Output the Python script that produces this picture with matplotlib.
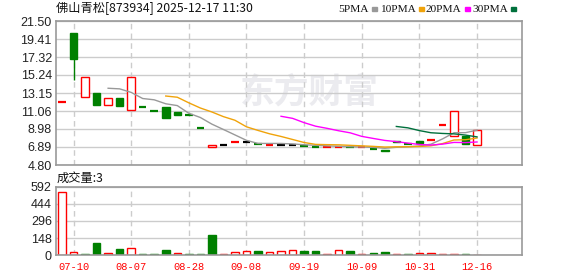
import numpy as np
import matplotlib
matplotlib.use('Agg')
import matplotlib.pyplot as plt

# --- data ---
opens = [12.06, 20.15, 12.64, 13.13, 11.72, 12.56, 11.14, 11.49, 11.03, 11.52,
         10.95, 10.60, 9.07, 6.89, 7.15, 7.46, 7.46, 7.27, 7.15, 7.15,
         7.15, 7.04, 6.89, 6.89, 6.89, 6.89, 6.89, 6.66, 6.57, 7.58,
         7.20, 7.55, 7.68, 9.42, 8.15, 8.15, 7.12]
closes = [12.06, 17.08, 15.06, 11.79, 12.52, 11.68, 15.06, 11.49, 11.03, 10.22,
          10.64, 10.60, 9.07, 7.15, 7.15, 7.46, 7.46, 7.27, 7.15, 7.15,
          7.15, 7.04, 6.89, 6.89, 6.89, 6.89, 6.89, 6.66, 6.38, 7.42,
          7.20, 7.39, 7.68, 9.42, 11.03, 7.23, 8.84]
highs = [12.06, 20.15, 15.06, 13.13, 12.52, 12.56, 15.06, 11.49, 11.03, 11.52,
         10.95, 10.60, 9.07, 7.15, 7.15, 7.46, 7.46, 7.27, 7.15, 7.15,
         7.15, 7.04, 6.89, 6.89, 6.89, 6.89, 6.89, 6.66, 6.57, 7.58,
         7.20, 7.55, 7.68, 9.42, 11.03, 8.15, 8.84]
lows = [12.06, 14.66, 12.64, 11.79, 11.72, 11.68, 11.14, 11.49, 11.03, 10.22,
        10.64, 10.60, 9.07, 6.89, 7.15, 7.46, 7.46, 7.27, 7.15, 7.15,
        7.15, 7.04, 6.89, 6.89, 6.89, 6.89, 6.89, 6.66, 6.38, 7.42,
        7.20, 7.39, 7.68, 9.42, 8.15, 7.23, 7.12]
candle_color = ['r', 'g', 'r', 'g', 'r', 'g', 'r', 'g', 'g', 'g',
                'g', 'g', 'g', 'r', 'k', 'r', 'k', 'g', 'r', 'k',
                'k', 'g', 'g', 'r', 'r', 'g', 'r', 'g', 'g', 'g',
                'g', 'g', 'r', 'r', 'r', 'g', 'r']

volumes = [548, 32, 8, 103, 23, 52, 66, 8, 8, 43,
           17, 8, 8, 172, 8, 26, 34, 34, 26, 34,
           43, 34, 34, 8, 43, 34, 8, 17, 26, 8,
           8, 17, 17, 8, 8, 8, 3]
vol_color = ['r', 'r', 'g', 'g', 'r', 'g', 'r', 'g', 'g', 'g',
             'r', 'g', 'g', 'g', 'r', 'r', 'r', 'g', 'r', 'r',
             'r', 'g', 'g', 'r', 'r', 'g', 'r', 'g', 'g', 'r',
             'g', 'r', 'r', 'r', 'r', 'g', 'r']

ma5 = [13.70, 13.63, 13.22, 12.51, 12.36, 11.90, 11.69, 10.80, 10.31, 9.54,
       8.92, 8.29, 7.66, 7.30, 7.30, 7.30, 7.24, 7.15, 7.08, 7.02,
       6.97, 6.92, 6.89, 6.84, 6.74, 6.85, 6.91, 7.01, 7.21, 7.82,
       8.54, 8.55, 8.84]
ma10 = [12.80, 12.66, 12.01, 11.41, 10.95, 10.41, 9.99, 9.23, 8.81, 8.42,
        8.11, 7.76, 7.41, 7.19, 7.16, 7.14, 7.08, 7.02, 6.96, 6.88,
        6.91, 6.92, 6.95, 7.03, 7.28, 7.70, 7.73, 7.93]
ma20 = [10.45, 10.21, 9.71, 9.30, 9.05, 8.77, 8.53, 8.12, 7.88, 7.65,
        7.51, 7.34, 7.18, 7.11, 7.22, 7.42, 7.40, 7.47]
ma30 = [9.27, 9.11, 8.79, 8.54, 8.46, 8.41, 8.27, 8.06]

date_idx = [1, 6, 11, 16, 21, 26, 31, 36]
date_labels = ['07-10', '08-07', '08-28', '09-08', '09-19', '10-09', '10-31', '12-16']
price_ticks = [4.80, 6.89, 8.98, 11.06, 13.15, 15.24, 17.32, 19.41, 21.50]
vol_ticks = [0, 148, 296, 444, 592]

COLORS = {'r': '#ff0000', 'g': '#008000', 'k': '#000000'}
MA_COLORS = ['#999999', '#f0a30a', '#ff00ff', '#00703c']
GRID = '#cccccc'
FRAME = '#999999'

plt.rcParams['font.family'] = ['Liberation Sans', 'DejaVu Sans']
CJK = ['Noto Sans CJK SC', 'DejaVu Sans']

W, H = 578, 276
fig = plt.figure(figsize=(W / 100, H / 100), dpi=100)


def px_axes(left, top, right, bottom):
    return fig.add_axes([left / W, 1 - bottom / H, (right - left) / W, (bottom - top) / H])


ax = px_axes(56, 21, 522, 165)
axv = px_axes(56, 186.5, 522, 255.3)
x = np.arange(len(closes))
bw = 0.65

for a in (ax, axv):
    a.set_xlim(-0.52, 39.9)
    for s in a.spines.values():
        s.set_color(FRAME)
        s.set_linewidth(1.2)
    for i in date_idx:
        a.axvline(i, color=GRID, lw=1, ls=(0, (4, 3)), zorder=0.5)
    a.tick_params(length=0, labelsize=9, pad=3, labelcolor='#222222')
    a.yaxis.grid(True, color=GRID, lw=1, zorder=0.5)
    a.set_axisbelow(True)

# price panel
ax.set_ylim(4.80, 21.50)
ax.set_yticks(price_ticks)
ax.set_yticklabels(['%.2f' % t for t in price_ticks])
ax.set_xticks([])

for i in x:
    o, c, h, l = opens[i], closes[i], highs[i], lows[i]
    col = COLORS[candle_color[i]]
    if h > max(o, c):
        ax.vlines(i, max(o, c), h, color=col, lw=1, zorder=2)
    if l < min(o, c):
        ax.vlines(i, l, min(o, c), color=col, lw=1, zorder=2)
    if o == c:
        ax.hlines(c, i - bw / 2, i + bw / 2, color=col, lw=1.6, zorder=2)
    elif c > o:
        ax.bar(i, c - o, bottom=o, width=bw, facecolor='white', edgecolor=col, lw=1, zorder=2)
    else:
        ax.bar(i, o - c, bottom=c, width=bw, facecolor=col, edgecolor=col, lw=1, zorder=2)

for vals, col in zip([ma5, ma10, ma20, ma30], MA_COLORS):
    start = len(closes) - len(vals)
    ax.plot(np.arange(start, len(closes)), vals, color=col, lw=1, zorder=3)

# watermark
ax.text(0.535, 0.667, '东方财富', transform=fig.transFigure, ha='center', va='center',
        fontsize=25, fontweight='bold', color='#ebebef', family=CJK, zorder=0.1)

# volume panel
axv.set_ylim(0, 592)
axv.set_yticks(vol_ticks)
axv.set_yticklabels([str(t) for t in vol_ticks])
for i in x:
    col = COLORS[vol_color[i]]
    fc = 'white' if vol_color[i] == 'r' else col
    axv.bar(i, volumes[i], width=bw, facecolor=fc, edgecolor=col, lw=1, zorder=2)
axv.set_xticks(date_idx)
axv.set_xticklabels(date_labels, color='#ff0000', family=['Liberation Mono'], fontsize=7.5)
axv.tick_params(axis='x', pad=5, labelcolor='#ff0000')

# header texts
fig.text(56 / W, 1 - 8.5 / H, '佛山青松[873934] 2025-12-17 11:30', family=CJK,
         fontsize=8.8, va='center', ha='left', color='#111111')
fig.text(57 / W, 1 - 178 / H, '成交量:3', family=CJK, fontsize=8.8,
         va='center', ha='left', color='#111111')

# legend: text then a small colour chip just after it
leg_names = ['5PMA', '10PMA', '20PMA', '30PMA']
leg_x = [338, 380, 426, 472]
renderer = fig.canvas.get_renderer()
for name, lx, col in zip(leg_names, leg_x, MA_COLORS):
    t = fig.text(lx / W, 1 - 9 / H, name, family=['Liberation Serif'], fontsize=8.2,
                 va='center', ha='left', color='#111111')
    x1 = t.get_window_extent(renderer).x1
    fig.patches.append(plt.Rectangle(((x1 + 3) / W, 1 - 10.5 / H), 5 / W, 3 / H,
                                     transform=fig.transFigure, color=col, figure=fig))

fig.savefig('out.png', dpi=100)
